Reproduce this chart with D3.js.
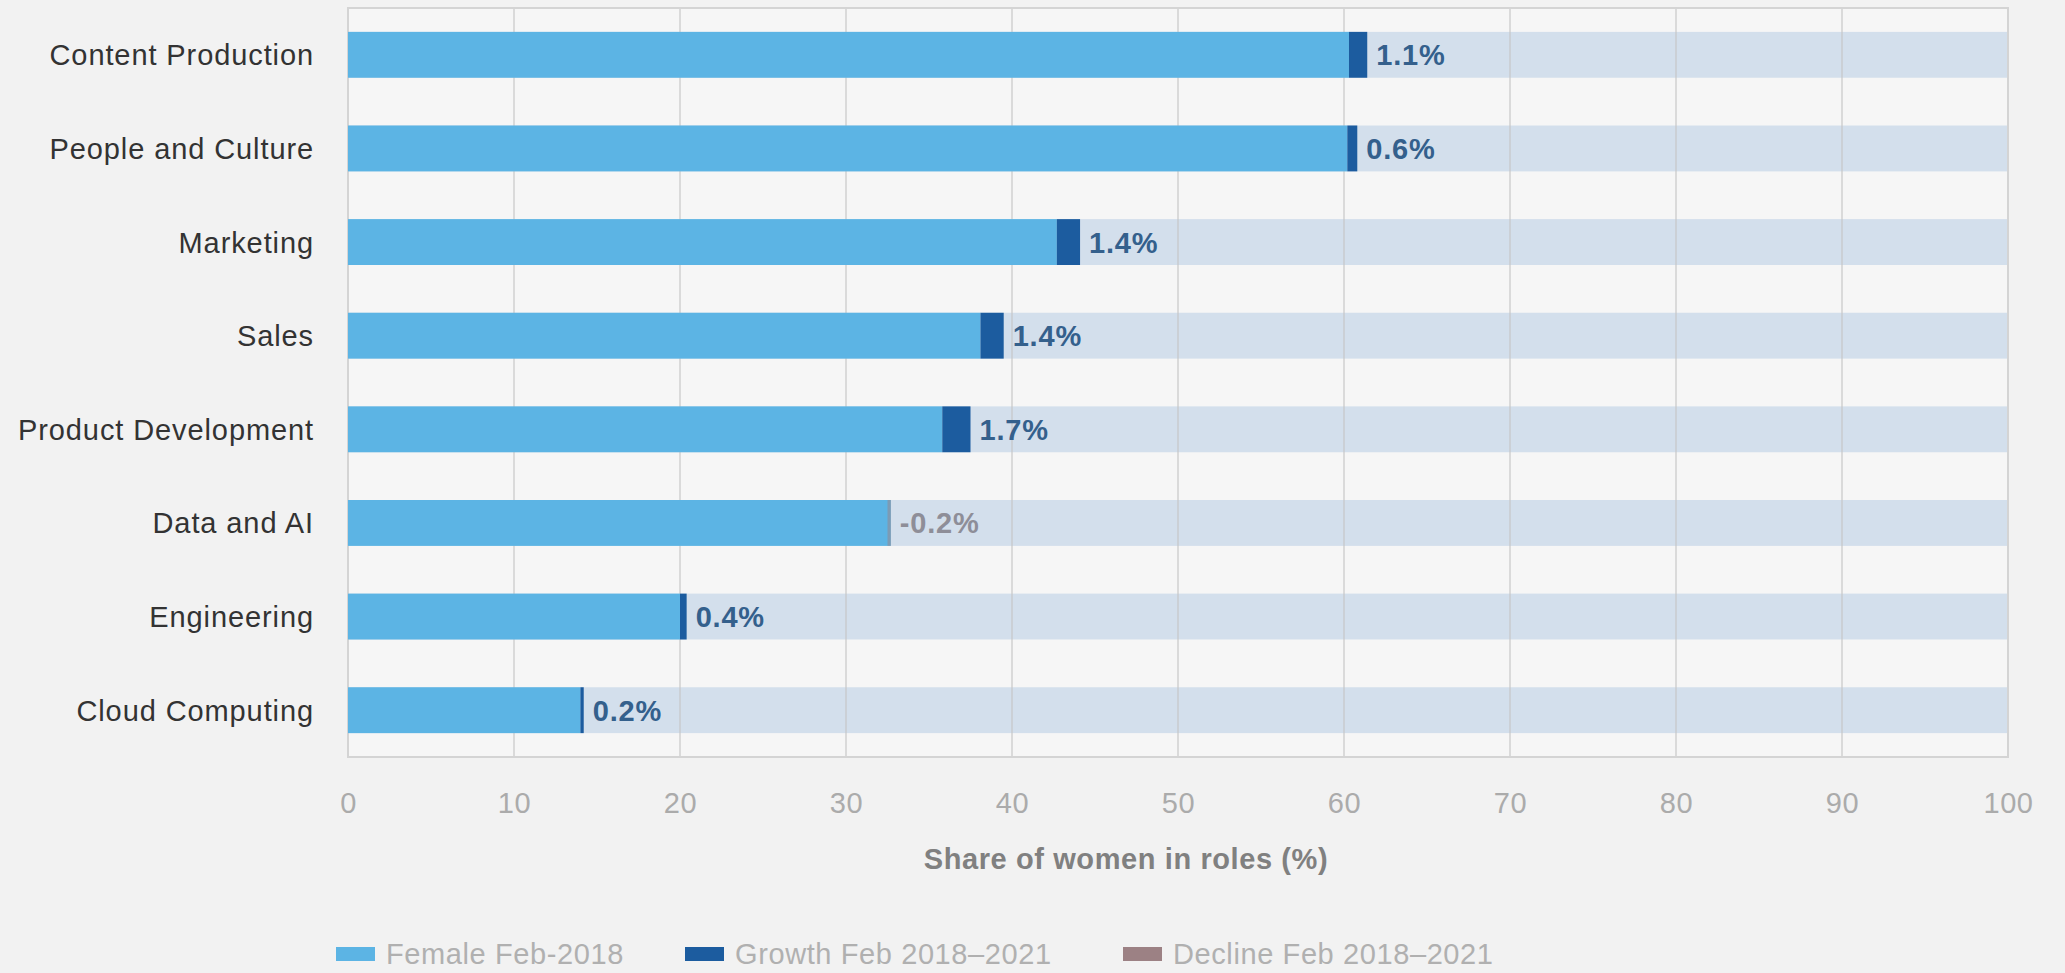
<!DOCTYPE html>
<html>
<head>
<meta charset="utf-8">
<script src="https://cdn.jsdelivr.net/npm/d3@7"></script>
<style>
  body { margin: 0; background: #f2f2f2; }
  svg text { font-family: "Liberation Sans", Arial, sans-serif; }
</style>
</head>
<body>
<script>
var width = 2065,
    height = 973;

var categories = ['Content Production', 'People and Culture', 'Marketing', 'Sales',
    'Product Development', 'Data and AI', 'Engineering', 'Cloud Computing'];
var female2018 = [60.3, 60.2, 42.7, 38.1, 35.8, 32.7, 20.0, 14.0];
var change = [1.1, 0.6, 1.4, 1.4, 1.7, -0.2, 0.4, 0.2];
var xTicks = [0, 10, 20, 30, 40, 50, 60, 70, 80, 90, 100];
var legendLabels = ['Female Feb-2018', 'Growth Feb 2018\u20132021', 'Decline Feb 2018\u20132021'];

var cBase = '#5cb4e4', cGrowth = '#1c5c9f', cDecline = '#9c8184', cTrack = '#d3dfec';

var svg = d3.select('body').append('svg')
    .attr('width', width)
    .attr('height', height);

var x = d3.scaleLinear().domain([0, 100]).range([348, 2008]);
var y = d3.scaleBand().domain(categories).range([8, 757])
    .paddingInner(0.51).paddingOuter(0.255);

// plot background
svg.append('rect')
    .attr('x', x(0)).attr('y', 8)
    .attr('width', x(100) - x(0)).attr('height', 749)
    .attr('fill', '#f6f6f6');

// tracks
svg.selectAll('.track').data(categories).enter().append('rect')
    .attr('x', x(0))
    .attr('y', function (d) { return y(d); })
    .attr('width', x(100) - x(0))
    .attr('height', y.bandwidth())
    .attr('fill', cTrack);

// grid
svg.selectAll('.grid').data(xTicks).enter().append('line')
    .attr('x1', function (d) { return x(d); })
    .attr('x2', function (d) { return x(d); })
    .attr('y1', 8).attr('y2', 757)
    .attr('stroke', '#c4c4c4')
    .attr('stroke-opacity', 0.75)
    .attr('stroke-width', 1.5);

svg.append('rect')
    .attr('x', x(0)).attr('y', 8)
    .attr('width', x(100) - x(0)).attr('height', 749)
    .attr('fill', 'none')
    .attr('stroke', '#d4d4d4')
    .attr('stroke-width', 2);

// base bars
svg.selectAll('.base').data(categories).enter().append('rect')
    .attr('x', x(0))
    .attr('y', function (d) { return y(d); })
    .attr('width', function (d, i) { return x(female2018[i]) - x(0); })
    .attr('height', y.bandwidth())
    .attr('fill', cBase);

// change segments
svg.selectAll('.chg').data(categories).enter().append('rect')
    .attr('x', function (d, i) {
        return change[i] >= 0 ? x(female2018[i]) : x(female2018[i] + change[i]);
    })
    .attr('y', function (d) { return y(d); })
    .attr('width', function (d, i) { return Math.abs(x(female2018[i] + change[i]) - x(female2018[i])); })
    .attr('height', y.bandwidth())
    .attr('fill', function (d, i) { return change[i] >= 0 ? cGrowth : cDecline; })
    .attr('fill-opacity', function (d, i) { return change[i] >= 0 ? 1 : 0.5; });

// value labels
svg.selectAll('.val').data(categories).enter().append('text')
    .attr('x', function (d, i) { return x(Math.max(female2018[i], female2018[i] + change[i])) + 9; })
    .attr('y', function (d) { return y(d) + y.bandwidth() / 2; })
    .attr('dy', '0.36em')
    .attr('font-size', 29)
    .attr('font-weight', 'bold')
    .attr('letter-spacing', 0.8)
    .attr('fill', function (d, i) { return change[i] >= 0 ? '#34608c' : '#8e8e98'; })
    .text(function (d, i) { return change[i].toFixed(1) + '%'; });

// category labels
svg.selectAll('.cat').data(categories).enter().append('text')
    .attr('x', 314)
    .attr('y', function (d) { return y(d) + y.bandwidth() / 2; })
    .attr('dy', '0.36em')
    .attr('text-anchor', 'end')
    .attr('font-size', 29)
    .attr('letter-spacing', 0.9)
    .attr('fill', '#333333')
    .text(function (d) { return d; });

// x axis
var xAxis = svg.append('g')
    .attr('transform', 'translate(0,757)')
    .call(d3.axisBottom(x).tickValues(xTicks).tickSize(0).tickPadding(35));
xAxis.select('.domain').remove();
xAxis.selectAll('text')
    .attr('font-size', 29)
    .attr('letter-spacing', 0.6)
    .attr('fill', '#ababab')
    .style('font-family', '"Liberation Sans", Arial, sans-serif');

svg.append('text')
    .attr('x', 1126)
    .attr('y', 869)
    .attr('text-anchor', 'middle')
    .attr('font-size', 29)
    .attr('font-weight', 'bold')
    .attr('letter-spacing', 0.6)
    .attr('fill', '#808080')
    .text('Share of women in roles (%)');

// legend
var legendX = [336, 685, 1123];
var legendColors = [cBase, cGrowth, cDecline];
var legend = svg.selectAll('.legend').data(legendLabels).enter().append('g')
    .attr('transform', function (d, i) { return 'translate(' + legendX[i] + ',954)'; });
legend.append('rect')
    .attr('x', 0).attr('y', -7)
    .attr('width', 39).attr('height', 14)
    .attr('fill', function (d, i) { return legendColors[i]; });
legend.append('text')
    .attr('x', 50)
    .attr('y', 0)
    .attr('dy', '0.36em')
    .attr('font-size', 29)
    .attr('letter-spacing', 0.6)
    .attr('fill', '#b0b0b0')
    .text(function (d) { return d; });
</script>
</body>
</html>
